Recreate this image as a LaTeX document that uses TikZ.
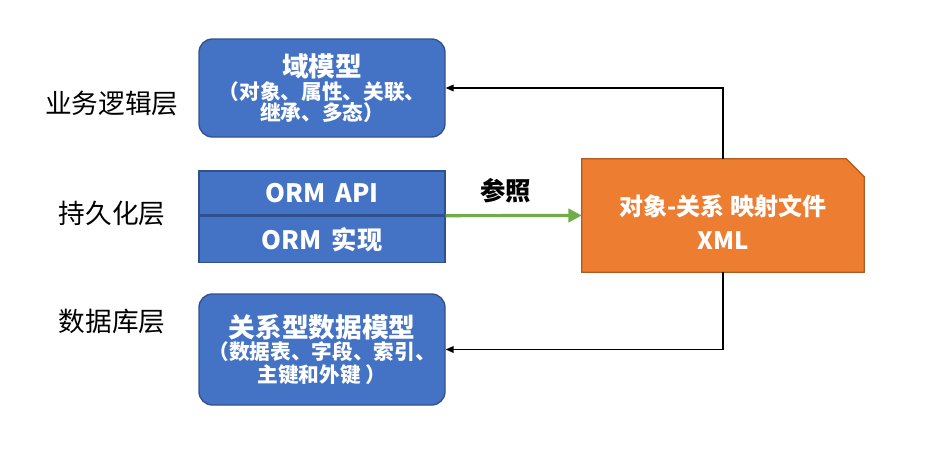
\documentclass[tikz,border=0pt]{standalone}
\usepackage{fontspec}
\newfontfamily\cjk{Noto Sans CJK SC}
\usetikzlibrary{arrows.meta, positioning, calc}
\definecolor{boxblue}{HTML}{4472C4}
\definecolor{boxblueline}{HTML}{2F528F}
\definecolor{maporange}{HTML}{ED7D31}
\definecolor{maporangeline}{HTML}{AE5A21}
\definecolor{refgreen}{HTML}{70AD47}
\newcommand{\bigtxt}{\fontsize{20pt}{22pt}\selectfont}
\newcommand{\smalltxt}{\fontsize{15.5pt}{21pt}\selectfont}

\begin{document}
\begin{tikzpicture}[x=0.75pt, y=-0.75pt,
    layer/.style={font=\cjk\fontsize{20pt}{24pt}\selectfont},
    bluebox/.style={draw=boxblueline, line width=1pt, fill=boxblue, text=white,
        minimum width=184.5pt, align=center, inner sep=0pt, font=\cjk\bfseries},
    conn/.style={line width=1.1pt, -{Triangle[length=6pt, width=5pt]}}]
    \useasboundingbox (0,0) rectangle (932,471);
    % Layer labels
    \node[layer] (biz) at (112,103) {业务逻辑层};
    \node[layer] (persist) at (112,213) {持久化层};
    \node[layer] (db) at (112,321) {数据库层};

    % Domain model
    \node[bluebox, rounded corners=10pt, minimum height=73.5pt] (domain) at (322,88)
        {\bigtxt 域模型\\[1pt]
         \smalltxt （对象、属性、关联、\\ \smalltxt 继承、多态）};

    % ORM layer
    \node[bluebox, minimum height=33pt, font=\cjk\bfseries\fontsize{19pt}{20pt}\selectfont]
        (api) at (322,193) {ORM\ \,API};
    \node[bluebox, minimum height=34.5pt, font=\cjk\bfseries\fontsize{19pt}{20pt}\selectfont,
        below=0pt of api] (impl) {ORM\ \,实现};

    % Relational model
    \node[bluebox, rounded corners=10pt, minimum height=83.25pt] (rel) at (322,349.5)
        {\bigtxt 关系型数据模型\\[0pt]
         \smalltxt （数据表、字段、索引、\\[1pt] \smalltxt 主键和外键 ）};

    % Mapping file (document with cut corner)
    \node[minimum width=211.5pt, minimum height=84.75pt, inner sep=0pt] (map) at (723,215.5) {};
    \fill[maporange, draw=maporangeline, line width=1pt]
        (map.north west) -- ($(map.north east)+(-18,0)$) -- ($(map.north east)+(0,18)$)
        -- (map.south east) -- (map.south west) -- cycle;
    \node[text=white, align=center, font=\cjk\bfseries\fontsize{18pt}{25pt}\selectfont]
        (maptext) at (723,222) {对象-关系\ 映射文件\\XML};

    % Connectors
    \draw[conn] (map.north) |- (domain.east);
    \draw[conn] (map.south) |- (rel.east);
    \draw[refgreen, line width=2.4pt, -{Triangle[length=10pt, width=10pt]}]
        (api.south east) -- (map.west)
        node[pos=0.44, above=5pt, text=black, font=\cjk\bfseries\fontsize{19pt}{20pt}\selectfont] (ref) {参照};
\end{tikzpicture}
\end{document}
